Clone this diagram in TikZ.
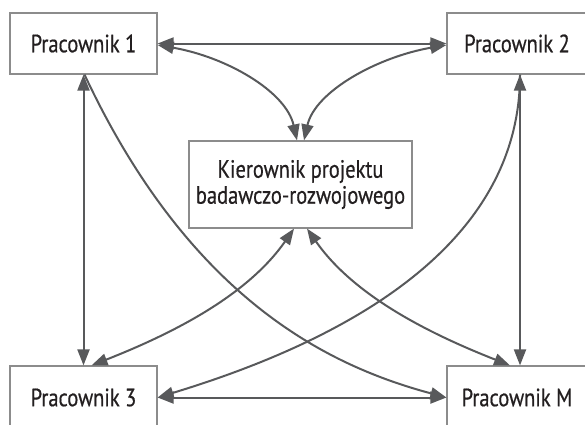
\documentclass[tikz,border=0pt]{standalone}
\usepackage{fontspec}
\setmainfont{PT Sans}[FakeStretch=0.82]
\newfontfamily\boxfont{PT Sans}[FakeStretch=0.82,FakeBold=0.5]
\usetikzlibrary{arrows.meta}
\definecolor{linec}{HTML}{58595B}
\definecolor{boxc}{HTML}{8C8C8C}
\definecolor{txtc}{HTML}{231F20}
\begin{document}
\begin{tikzpicture}[x=1pt,y=-1pt,
  box/.style={draw=boxc, line width=1.2pt, fill=white, text=txtc,
    font=\boxfont\fontsize{25}{26}\selectfont, inner sep=0pt, align=center},
  conn/.style={draw=linec, line width=2pt},
  >={Triangle[length=16pt,width=12pt]}]
\useasboundingbox (0,0) rectangle (585,424);
\clip (0,0) rectangle (585,424);
\node[box, minimum width=147pt, minimum height=61pt] (p1) at (83.5,43.5) {Pracownik 1};
\node[box, minimum width=140pt, minimum height=61pt] (p2) at (517,43.5) {Pracownik 2};
\node[box, minimum width=147pt, minimum height=63pt] (p3) at (83.5,397.5) {Pracownik 3};
\node[box, minimum width=140pt, minimum height=63pt] (pm) at (517,397.5) {Pracownik M};
\node[box, minimum width=223pt, minimum height=87pt] (k) at (300.5,184.5) {Kierownik projektu\\badawczo-rozwojowego};
% straight connectors
\draw[conn,<->] (p1.east) -- (p2.west);
\draw[conn,<->] (p3.east) -- (pm.west);
\draw[conn,<->] (p1.south) -- (p3.north);
\draw[conn,<->] ([xshift=3pt]p2.south) -- ([xshift=3pt]pm.north);
% top curves to manager
\draw[conn,<->] ([yshift=-1.5pt]p1.east) .. controls +(69,12) and +(-11,-49) .. ([xshift=-3.5pt]k.north);
\draw[conn,<->] ([yshift=-1.5pt]p2.west) .. controls +(-69,12) and +(11,-49) .. ([xshift=3.5pt]k.north);
% bottom curves from manager
\draw[conn,<->] ([xshift=-6.5pt]k.south) .. controls +(-46,66) and +(84,-33) .. ([xshift=8pt]p3.north);
\draw[conn,<->] ([xshift=6.5pt]k.south) .. controls +(46,66) and +(-84,-33) .. ([xshift=-7pt]pm.north);
% long diagonal curves
\draw[conn,->] ([xshift=1pt]p1.south) .. controls +(106,226) and +(-116,-31) .. (pm.west);
\draw[conn,->] ([xshift=3pt]p2.south) .. controls +(0,170) and +(191,-58) .. (p3.east);
\end{tikzpicture}
\end{document}
